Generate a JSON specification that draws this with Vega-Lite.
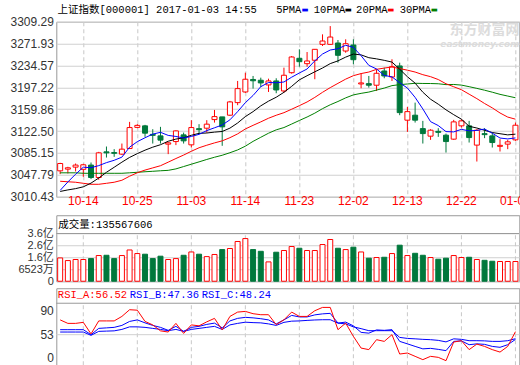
{
  "$schema": "https://vega.github.io/schema/vega-lite/v6.json",
  "background": "white",
  "padding": {"left": 9.3, "top": 3.75, "right": 0, "bottom": 0},
  "config": {
    "view": {"stroke": "#999999", "strokeWidth": 1},
    "axis": {"labelFont": "Liberation Sans, Noto Sans CJK SC", "labelFontSize": 12, "labelColor": "#333333", "ticks": false, "tickSize": 0, "domain": false, "gridColor": "#d0d0d0", "gridWidth": 1, "labelOverlap": false},
    "text": {"font": "Liberation Mono, Noto Sans CJK SC", "fontSize": 10.5, "color": "#000000"}
  },
  "datasets": {
    "one": [{}],
    "k": [
      {"d":"10-11","o":3054.7,"h":3068.4,"l":3049.1,"c":3067.2,"v":1.76,"m5":3021.3,"m10":3019.5,"m20":3036.9,"m30":3051.3,"ra":70.4,"rb":58.9,"rc":56.1},
      {"d":"10-12","o":3057.6,"h":3061.6,"l":3050.2,"c":3059.9,"v":1.56,"m5":3035.7,"m10":3022.1,"m20":3036.0,"m30":3051.3,"ra":66.3,"rb":58.9,"rc":56.1},
      {"d":"10-13","o":3061.0,"h":3067.2,"l":3053.6,"c":3064.5,"v":1.64,"m5":3048.9,"m10":3024.3,"m20":3035.2,"m30":3051.3,"ra":66.3,"rb":58.9,"rc":56.1},
      {"d":"10-14","o":3057.3,"h":3066.7,"l":3044.5,"c":3065.0,"v":1.64,"m5":3060.9,"m10":3027.4,"m20":3033.4,"m30":3050.5,"ra":67.5,"rb":58.9,"rc":56.1},
      {"d":"10-17","o":3064.5,"h":3068.9,"l":3040.6,"c":3043.3,"v":1.71,"m5":3060.0,"m10":3033.7,"m20":3031.7,"m30":3050.5,"ra":53.9,"rb":53.0,"rc":52.2},
      {"d":"10-18","o":3043.3,"h":3087.1,"l":3039.4,"c":3085.4,"v":1.94,"m5":3063.6,"m10":3042.4,"m20":3031.7,"m30":3050.5,"ra":69.2,"rb":60.4,"rc":56.9},
      {"d":"10-19","o":3087.1,"h":3096.2,"l":3077.4,"c":3085.4,"v":1.96,"m5":3068.7,"m10":3052.2,"m20":3033.4,"m30":3050.5,"ra":69.2,"rb":61.0,"rc":57.2},
      {"d":"10-20","o":3085.9,"h":3091.7,"l":3078.6,"c":3084.6,"v":1.71,"m5":3072.7,"m10":3060.8,"m20":3035.2,"m30":3050.5,"ra":69.2,"rb":61.6,"rc":57.5},
      {"d":"10-21","o":3083.2,"h":3101.3,"l":3082.0,"c":3091.7,"v":1.94,"m5":3078.1,"m10":3069.5,"m20":3038.6,"m30":3050.5,"ra":74.5,"rb":63.9,"rc":59.2},
      {"d":"10-24","o":3092.8,"h":3138.3,"l":3092.3,"c":3128.6,"v":2.36,"m5":3095.1,"m10":3077.6,"m20":3045.5,"m30":3051.3,"ra":82.4,"rb":68.6,"rc":62.2},
      {"d":"10-25","o":3128.9,"h":3134.4,"l":3127.5,"c":3132.3,"v":2.09,"m5":3104.5,"m10":3084.1,"m20":3051.4,"m30":3052.2,"ra":81.8,"rb":70.4,"rc":62.2},
      {"d":"10-26","o":3131.5,"h":3133.2,"l":3112.7,"c":3119.0,"v":2.04,"m5":3111.2,"m10":3090.0,"m20":3056.0,"m30":3053.1,"ra":68.6,"rb":66.9,"rc":61.6},
      {"d":"10-27","o":3117.0,"h":3125.8,"l":3101.3,"c":3115.3,"v":1.71,"m5":3117.4,"m10":3095.1,"m20":3059.7,"m30":3053.9,"ra":64.5,"rb":63.9,"rc":60.4},
      {"d":"10-28","o":3114.4,"h":3129.8,"l":3101.3,"c":3107.1,"v":1.89,"m5":3120.5,"m10":3099.3,"m20":3063.4,"m30":3054.8,"ra":57.5,"rb":61.6,"rc":59.2},
      {"d":"10-31","o":3100.3,"h":3103.3,"l":3083.2,"c":3102.5,"v":1.64,"m5":3115.2,"m10":3105.2,"m20":3069.5,"m30":3055.5,"ra":56.1,"rb":58.1,"rc":57.7},
      {"d":"11-01","o":3104.7,"h":3123.8,"l":3098.6,"c":3122.9,"v":1.71,"m5":3113.4,"m10":3108.9,"m20":3075.7,"m30":3058.0,"ra":66.3,"rb":62.8,"rc":59.2},
      {"d":"11-02","o":3116.1,"h":3120.0,"l":3101.3,"c":3105.9,"v":1.96,"m5":3110.7,"m10":3111.0,"m20":3081.6,"m30":3062.0,"ra":54.5,"rb":56.9,"rc":56.9},
      {"d":"11-03","o":3099.1,"h":3141.2,"l":3094.5,"c":3128.6,"v":2.21,"m5":3113.4,"m10":3115.4,"m20":3088.1,"m30":3066.0,"ra":64.5,"rb":61.6,"rc":59.2},
      {"d":"11-04","o":3126.7,"h":3134.4,"l":3117.3,"c":3125.0,"v":2.04,"m5":3117.0,"m10":3118.7,"m20":3094.1,"m30":3070.0,"ra":63.4,"rb":62.8,"rc":60.4},
      {"d":"11-07","o":3127.5,"h":3141.2,"l":3120.0,"c":3134.4,"v":1.86,"m5":3123.4,"m10":3119.3,"m20":3098.4,"m30":3074.1,"ra":68.1,"rb":65.1,"rc":61.6},
      {"d":"11-08","o":3142.2,"h":3158.7,"l":3137.1,"c":3147.3,"v":2.02,"m5":3128.2,"m10":3120.8,"m20":3102.4,"m30":3077.9,"ra":72.2,"rb":66.6,"rc":62.8},
      {"d":"11-09","o":3146.8,"h":3146.8,"l":3097.4,"c":3129.8,"v":2.39,"m5":3133.0,"m10":3121.9,"m20":3105.9,"m30":3081.3,"ra":58.6,"rb":61.0,"rc":59.2},
      {"d":"11-10","o":3149.7,"h":3174.1,"l":3148.5,"c":3172.4,"v":2.47,"m5":3141.8,"m10":3127.6,"m20":3111.3,"m30":3085.6,"ra":74.5,"rb":69.2,"rc":64.5},
      {"d":"11-11","o":3171.2,"h":3208.2,"l":3166.8,"c":3195.1,"v":3.00,"m5":3155.8,"m10":3136.4,"m20":3117.8,"m30":3090.4,"ra":79.6,"rb":72.2,"rc":66.3},
      {"d":"11-14","o":3189.4,"h":3222.3,"l":3187.7,"c":3211.1,"v":3.22,"m5":3171.1,"m10":3147.3,"m20":3126.2,"m30":3096.8,"ra":80.4,"rb":73.4,"rc":67.7},
      {"d":"11-15","o":3210.7,"h":3216.7,"l":3195.1,"c":3208.5,"v":2.39,"m5":3183.4,"m10":3155.8,"m20":3132.4,"m30":3105.0,"ra":77.7,"rb":72.8,"rc":67.2},
      {"d":"11-16","o":3209.4,"h":3213.8,"l":3197.9,"c":3204.8,"v":2.26,"m5":3198.4,"m10":3165.7,"m20":3138.3,"m30":3112.0,"ra":76.5,"rb":71.8,"rc":66.9},
      {"d":"11-17","o":3201.4,"h":3212.1,"l":3189.4,"c":3208.2,"v":1.46,"m5":3205.5,"m10":3173.7,"m20":3144.5,"m30":3118.9,"ra":76.5,"rb":70.4,"rc":65.7},
      {"d":"11-18","o":3208.2,"h":3212.8,"l":3187.2,"c":3192.8,"v":2.19,"m5":3205.1,"m10":3180.4,"m20":3149.6,"m30":3124.7,"ra":64.8,"rb":65.7,"rc":63.9},
      {"d":"11-21","o":3191.1,"h":3230.9,"l":3188.2,"c":3217.9,"v":2.32,"m5":3206.4,"m10":3188.8,"m20":3154.0,"m30":3128.6,"ra":70.5,"rb":70.4,"rc":67.5},
      {"d":"11-22","o":3222.3,"h":3250.8,"l":3220.6,"c":3249.1,"v":2.62,"m5":3214.6,"m10":3199.0,"m20":3159.9,"m30":3134.6,"ra":79.6,"rb":75.7,"rc":68.9},
      {"d":"11-23","o":3246.9,"h":3262.2,"l":3232.5,"c":3241.1,"v":2.49,"m5":3221.8,"m10":3210.1,"m20":3166.0,"m30":3140.7,"ra":74.5,"rb":73.9,"rc":69.2},
      {"d":"11-24","o":3237.7,"h":3257.6,"l":3232.5,"c":3242.3,"v":2.32,"m5":3228.6,"m10":3217.1,"m20":3172.3,"m30":3146.6,"ra":74.5,"rb":73.9,"rc":69.8},
      {"d":"11-25","o":3243.5,"h":3262.7,"l":3211.1,"c":3262.2,"v":2.32,"m5":3242.5,"m10":3223.8,"m20":3180.1,"m30":3153.2,"ra":81.2,"rb":76.3,"rc":70.3},
      {"d":"11-28","o":3270.7,"h":3287.8,"l":3267.9,"c":3276.4,"v":2.77,"m5":3254.2,"m10":3230.3,"m20":3188.8,"m30":3160.9,"ra":85.1,"rb":77.5,"rc":70.6},
      {"d":"11-29","o":3270.7,"h":3301.9,"l":3269.6,"c":3283.2,"v":3.15,"m5":3261.0,"m10":3237.8,"m20":3196.8,"m30":3167.5,"ra":85.1,"rb":78.1,"rc":70.6},
      {"d":"11-30","o":3273.0,"h":3278.1,"l":3239.4,"c":3252.0,"v":2.49,"m5":3263.2,"m10":3242.5,"m20":3204.1,"m30":3173.1,"ra":58.9,"rb":66.6,"rc":66.6},
      {"d":"12-01","o":3259.3,"h":3279.3,"l":3256.4,"c":3271.8,"v":2.39,"m5":3269.1,"m10":3248.9,"m20":3211.3,"m30":3179.3,"ra":66.6,"rb":67.8,"rc":65.7},
      {"d":"12-02","o":3269.6,"h":3279.3,"l":3236.7,"c":3244.5,"v":2.57,"m5":3265.6,"m10":3254.1,"m20":3217.2,"m30":3184.4,"ra":51.0,"rb":63.4,"rc":62.2},
      {"d":"12-05","o":3203.1,"h":3221.3,"l":3195.7,"c":3204.8,"v":2.21,"m5":3251.3,"m10":3252.7,"m20":3220.8,"m30":3187.0,"ra":37.2,"rb":55.7,"rc":60.1},
      {"d":"12-06","o":3203.6,"h":3216.7,"l":3196.8,"c":3200.9,"v":1.74,"m5":3234.8,"m10":3247.9,"m20":3223.4,"m30":3189.2,"ra":35.4,"rb":54.8,"rc":57.7},
      {"d":"12-07","o":3200.9,"h":3228.1,"l":3191.1,"c":3221.3,"v":1.79,"m5":3228.7,"m10":3245.9,"m20":3228.0,"m30":3192.6,"ra":47.1,"rb":58.6,"rc":57.7},
      {"d":"12-08","o":3225.2,"h":3230.9,"l":3212.8,"c":3216.7,"v":1.81,"m5":3217.6,"m10":3243.4,"m20":3230.2,"m30":3196.0,"ra":45.1,"rb":58.1,"rc":57.7},
      {"d":"12-09","o":3215.0,"h":3245.2,"l":3208.2,"c":3232.5,"v":2.09,"m5":3215.2,"m10":3240.4,"m20":3232.1,"m30":3200.2,"ra":53.0,"rb":58.9,"rc":57.7},
      {"d":"12-12","o":3233.8,"h":3239.4,"l":3149.7,"c":3154.1,"v":2.72,"m5":3205.1,"m10":3228.2,"m20":3229.3,"m30":3201.9,"ra":30.2,"rb":45.1,"rc":49.8},
      {"d":"12-13","o":3141.2,"h":3163.8,"l":3121.2,"c":3155.8,"v":1.94,"m5":3196.1,"m10":3215.4,"m20":3226.6,"m30":3203.0,"ra":31.4,"rb":42.2,"rc":48.6},
      {"d":"12-14","o":3149.7,"h":3171.2,"l":3137.1,"c":3141.2,"v":2.11,"m5":3180.1,"m10":3204.4,"m20":3223.4,"m30":3204.2,"ra":27.5,"rb":39.2,"rc":48.1},
      {"d":"12-15","o":3126.8,"h":3140.0,"l":3101.3,"c":3118.3,"v":1.96,"m5":3160.4,"m10":3189.0,"m20":3218.9,"m30":3203.9,"ra":23.6,"rb":36.3,"rc":47.5},
      {"d":"12-16","o":3113.9,"h":3125.8,"l":3107.6,"c":3124.1,"v":1.79,"m5":3138.7,"m10":3177.0,"m20":3215.5,"m30":3203.8,"ra":27.5,"rb":36.9,"rc":47.1},
      {"d":"12-19","o":3122.1,"h":3127.5,"l":3112.7,"c":3120.4,"v":1.66,"m5":3132.0,"m10":3168.5,"m20":3210.6,"m30":3203.4,"ra":26.3,"rb":35.7,"rc":46.3},
      {"d":"12-20","o":3115.6,"h":3118.3,"l":3085.9,"c":3104.7,"v":1.74,"m5":3121.7,"m10":3158.9,"m20":3203.4,"m30":3201.9,"ra":22.4,"rb":34.2,"rc":44.5},
      {"d":"12-21","o":3108.8,"h":3141.7,"l":3107.6,"c":3138.3,"v":1.94,"m5":3121.2,"m10":3150.6,"m20":3198.3,"m30":3202.2,"ra":44.3,"rb":45.1,"rc":48.1},
      {"d":"12-22","o":3131.5,"h":3142.9,"l":3128.6,"c":3140.0,"v":1.79,"m5":3125.5,"m10":3142.9,"m20":3193.2,"m30":3201.1,"ra":45.9,"rb":45.7,"rc":47.5},
      {"d":"12-23","o":3131.5,"h":3140.0,"l":3103.0,"c":3111.5,"v":1.81,"m5":3123.0,"m10":3130.8,"m20":3185.6,"m30":3198.4,"ra":35.4,"rb":41.2,"rc":45.9},
      {"d":"12-26","o":3098.6,"h":3125.8,"l":3070.6,"c":3124.1,"v":1.64,"m5":3123.7,"m10":3127.8,"m20":3178.0,"m30":3195.5,"ra":41.9,"rb":42.2,"rc":45.9},
      {"d":"12-27","o":3118.2,"h":3127.5,"l":3110.5,"c":3116.5,"v":1.58,"m5":3126.1,"m10":3123.9,"m20":3169.7,"m30":3192.4,"ra":39.2,"rb":41.6,"rc":45.7},
      {"d":"12-28","o":3114.4,"h":3120.0,"l":3094.5,"c":3103.0,"v":1.51,"m5":3119.0,"m10":3120.1,"m20":3162.2,"m30":3189.0,"ra":35.4,"rb":39.2,"rc":45.1},
      {"d":"12-29","o":3096.5,"h":3108.8,"l":3087.7,"c":3098.2,"v":1.49,"m5":3110.7,"m10":3118.1,"m20":3153.5,"m30":3185.3,"ra":32.5,"rb":38.1,"rc":45.1},
      {"d":"12-30","o":3100.3,"h":3107.6,"l":3091.7,"c":3104.2,"v":1.49,"m5":3109.2,"m10":3116.1,"m20":3146.5,"m30":3182.4,"ra":39.2,"rb":41.2,"rc":45.9},
      {"d":"01-03","o":3107.6,"h":3137.1,"l":3105.9,"c":3132.6,"v":1.49,"m5":3110.9,"m10":3117.3,"m20":3142.9,"m30":3179.5,"ra":56.52,"rb":47.36,"rc":48.24}
    ],
    "ticks": [{"d":"10-14"},{"d":"10-25"},{"d":"11-03"},{"d":"11-14"},{"d":"11-23"},{"d":"12-02"},{"d":"12-13"},{"d":"12-22"},{"d":"01-03"}]
  },
  "bounds": "flush",
  "spacing": 18.5,
  "vconcat": [
    {
      "width": 463,
      "height": 175,
      "data": {"name": "k"},
      "layer": [
        {
          "data": {"name": "one"},
          "mark": {"type": "text", "align": "right", "baseline": "middle", "dx": 4, "font": "Noto Sans CJK SC", "fontSize": 14, "fontWeight": "bold", "color": "#dcdcdc"},
          "encoding": {
            "x": {"datum": "01-03", "type": "ordinal"},
            "y": {"datum": 3296, "type": "quantitative"},
            "text": {"value": "东方财富网"}
          }
        },
        {
          "data": {"name": "one"},
          "mark": {"type": "text", "align": "right", "baseline": "middle", "dx": 4, "font": "DejaVu Sans", "fontSize": 9, "fontWeight": "bold", "fontStyle": "italic", "color": "#dcdcdc"},
          "encoding": {
            "x": {"datum": "01-03", "type": "ordinal"},
            "y": {"datum": 3271, "type": "quantitative"},
            "text": {"value": "eastmoney.com"}
          }
        },
        {
          "mark": {"type": "rule", "strokeWidth": 1},
          "encoding": {
            "x": {
              "field": "d", "type": "ordinal", "title": null,
              "scale": {"type": "band", "paddingInner": 0, "paddingOuter": 0, "domain": ["10-11","10-12","10-13","10-14","10-17","10-18","10-19","10-20","10-21","10-24","10-25","10-26","10-27","10-28","10-31","11-01","11-02","11-03","11-04","11-07","11-08","11-09","11-10","11-11","11-14","11-15","11-16","11-17","11-18","11-21","11-22","11-23","11-24","11-25","11-28","11-29","11-30","12-01","12-02","12-05","12-06","12-07","12-08","12-09","12-12","12-13","12-14","12-15","12-16","12-19","12-20","12-21","12-22","12-23","12-26","12-27","12-28","12-29","12-30","01-03"]},
              "axis": {"values": ["10-14","10-25","11-03","11-14","11-23","12-02","12-13","12-22","01-03"], "labelColor": "#ff0000", "labelAngle": 0, "labelAlign": "center", "labelFlush": false, "labelPadding": 4, "labelOverlap": false, "grid": true, "gridDash": [4, 3], "gridColor": "#c8c8c8", "bandPosition": 0.5}
            },
            "y": {
              "field": "l", "type": "quantitative", "title": null,
              "scale": {"domain": [3010.43, 3309.29], "nice": false, "zero": false},
              "axis": {"values": [3010.43, 3047.79, 3085.15, 3122.50, 3159.86, 3197.22, 3234.57, 3271.93, 3309.29], "tickCount": 20, "format": ".2f", "labelPadding": 3, "labelOverlap": false, "grid": true}
            },
            "y2": {"field": "h"},
            "color": {"condition": {"test": "datum.c >= datum.o", "value": "#ff0000"}, "value": "#00783c"}
          }
        },
        {
          "mark": {"type": "bar", "width": 5, "strokeWidth": 1},
          "encoding": {
            "x": {"field": "d", "type": "ordinal"},
            "y": {"field": "o", "type": "quantitative"},
            "y2": {"field": "c"},
            "fill": {"condition": {"test": "datum.c >= datum.o", "value": "#ffffff"}, "value": "#00783c"},
            "stroke": {"condition": {"test": "datum.c >= datum.o", "value": "#ff0000"}, "value": "#00783c"}
          }
        },
        {
          "mark": {"type": "line", "strokeWidth": 1, "color": "#008000"},
          "encoding": {"x": {"field": "d", "type": "ordinal"}, "y": {"field": "m30", "type": "quantitative"}}
        },
        {
          "mark": {"type": "line", "strokeWidth": 1, "color": "#ff0000"},
          "encoding": {"x": {"field": "d", "type": "ordinal"}, "y": {"field": "m20", "type": "quantitative"}}
        },
        {
          "mark": {"type": "line", "strokeWidth": 1, "color": "#000000"},
          "encoding": {"x": {"field": "d", "type": "ordinal"}, "y": {"field": "m10", "type": "quantitative"}}
        },
        {
          "mark": {"type": "line", "strokeWidth": 1, "color": "#0000ff"},
          "encoding": {"x": {"field": "d", "type": "ordinal"}, "y": {"field": "m5", "type": "quantitative"}}
        },
        {
          "data": {"name": "one"},
          "mark": {"type": "text", "align": "left", "baseline": "middle", "dx": -2.6},
          "encoding": {"x": {"datum": "10-11", "type": "ordinal"}, "y": {"datum": 3329, "type": "quantitative"}, "text": {"value": "上证指数[000001] 2017-01-03 14:55"}}
        },
        {
          "data": {"name": "one"},
          "mark": {"type": "text", "align": "left", "baseline": "middle"},
          "encoding": {"x": {"datum": "11-18", "type": "ordinal"}, "y": {"datum": 3329, "type": "quantitative"}, "text": {"value": "5PMA"}}
        },
        {
          "data": {"name": "one"},
          "mark": {"type": "text", "align": "left", "baseline": "middle", "dx": -1},
          "encoding": {"x": {"datum": "11-25", "type": "ordinal"}, "y": {"datum": 3329, "type": "quantitative"}, "text": {"value": "10PMA"}}
        },
        {
          "data": {"name": "one"},
          "mark": {"type": "text", "align": "left", "baseline": "middle", "dx": 2.7},
          "encoding": {"x": {"datum": "12-02", "type": "ordinal"}, "y": {"datum": 3329, "type": "quantitative"}, "text": {"value": "20PMA"}}
        },
        {
          "data": {"name": "one"},
          "mark": {"type": "text", "align": "left", "baseline": "middle"},
          "encoding": {"x": {"datum": "12-12", "type": "ordinal"}, "y": {"datum": 3329, "type": "quantitative"}, "text": {"value": "30PMA"}}
        },
        {
          "data": {"name": "one"},
          "mark": {"type": "text", "align": "center", "baseline": "middle", "dx": -2.1, "font": "DejaVu Sans", "fontSize": 7.5, "color": "#0000ff"},
          "encoding": {"x": {"datum": "11-24", "type": "ordinal"}, "y": {"datum": 3329, "type": "quantitative"}, "text": {"value": "▬"}}
        },
        {
          "data": {"name": "one"},
          "mark": {"type": "text", "align": "center", "baseline": "middle", "dx": 2.7, "font": "DejaVu Sans", "fontSize": 7.5, "color": "#000000"},
          "encoding": {"x": {"datum": "12-01", "type": "ordinal"}, "y": {"datum": 3329, "type": "quantitative"}, "text": {"value": "▬"}}
        },
        {
          "data": {"name": "one"},
          "mark": {"type": "text", "align": "center", "baseline": "middle", "dx": -1.1, "font": "DejaVu Sans", "fontSize": 7.5, "color": "#ff0000"},
          "encoding": {"x": {"datum": "12-09", "type": "ordinal"}, "y": {"datum": 3329, "type": "quantitative"}, "text": {"value": "▬"}}
        },
        {
          "data": {"name": "one"},
          "mark": {"type": "text", "align": "center", "baseline": "middle", "dx": 3.7, "font": "DejaVu Sans", "fontSize": 7.5, "color": "#008000"},
          "encoding": {"x": {"datum": "12-16", "type": "ordinal"}, "y": {"datum": 3329, "type": "quantitative"}, "text": {"value": "▬"}}
        }
      ]
    },
    {
      "bounds": "flush",
      "spacing": 7,
      "vconcat": [
        {
          "width": 463,
          "height": 66,
          "data": {"name": "k"},
          "layer": [
            {
              "data": {"name": "ticks"},
              "mark": {"type": "rule", "strokeDash": [4, 3], "color": "#c8c8c8"},
              "encoding": {
                "x": {"field": "d", "type": "ordinal", "axis": null,
                  "scale": {"type": "band", "paddingInner": 0, "paddingOuter": 0, "domain": ["10-11","10-12","10-13","10-14","10-17","10-18","10-19","10-20","10-21","10-24","10-25","10-26","10-27","10-28","10-31","11-01","11-02","11-03","11-04","11-07","11-08","11-09","11-10","11-11","11-14","11-15","11-16","11-17","11-18","11-21","11-22","11-23","11-24","11-25","11-28","11-29","11-30","12-01","12-02","12-05","12-06","12-07","12-08","12-09","12-12","12-13","12-14","12-15","12-16","12-19","12-20","12-21","12-22","12-23","12-26","12-27","12-28","12-29","12-30","01-03"]}},
                "y": {"datum": 0, "type": "quantitative", "title": null,
                  "scale": {"domain": [0, 4.98], "nice": false, "zero": true},
                  "axis": {"values": [0, 0.9, 1.8, 2.7, 3.6], "tickCount": 20, "labelFontSize": 11, "labelExpr": "datum.value == 0 ? '0' : datum.value < 1 ? '6523万' : datum.value < 2 ? '1.6亿' : datum.value < 3 ? '2.6亿' : '3.6亿'", "labelPadding": 3, "labelOverlap": false, "grid": true, "title": null}},
                "y2": {"datum": 3.6}
              }
            },
            {
              "mark": {"type": "bar", "width": 5, "strokeWidth": 1},
              "encoding": {
                "x": {"field": "d", "type": "ordinal", "axis": null},
                "y": {"field": "v", "type": "quantitative", "title": null},
                "fill": {"condition": {"test": "datum.c >= datum.o", "value": "#ffffff"}, "value": "#00783c"},
                "stroke": {"condition": {"test": "datum.c >= datum.o", "value": "#ff0000"}, "value": "#00783c"}
              }
            },
            {
              "data": {"name": "one"},
              "mark": {"type": "rule", "color": "#999999"},
              "encoding": {"y": {"datum": 3.6, "type": "quantitative"}}
            },
            {
              "data": {"name": "one"},
              "mark": {"type": "text", "align": "left", "baseline": "middle", "dx": -2},
              "encoding": {"x": {"datum": "10-11", "type": "ordinal", "axis": null}, "y": {"datum": 4.25, "type": "quantitative"}, "text": {"value": "成交量:135567606"}}
            }
          ]
        },
        {
          "width": 463,
          "height": 77,
          "data": {"name": "k"},
          "layer": [
            {
              "data": {"name": "ticks"},
              "mark": {"type": "rule", "strokeDash": [4, 3], "color": "#c8c8c8"},
              "encoding": {
                "x": {"field": "d", "type": "ordinal", "axis": null,
                  "scale": {"type": "band", "paddingInner": 0, "paddingOuter": 0, "domain": ["10-11","10-12","10-13","10-14","10-17","10-18","10-19","10-20","10-21","10-24","10-25","10-26","10-27","10-28","10-31","11-01","11-02","11-03","11-04","11-07","11-08","11-09","11-10","11-11","11-14","11-15","11-16","11-17","11-18","11-21","11-22","11-23","11-24","11-25","11-28","11-29","11-30","12-01","12-02","12-05","12-06","12-07","12-08","12-09","12-12","12-13","12-14","12-15","12-16","12-19","12-20","12-21","12-22","12-23","12-26","12-27","12-28","12-29","12-30","01-03"]}},
                "y": {"datum": 17, "type": "quantitative", "title": null,
                  "scale": {"domain": [17, 107.66], "nice": false, "zero": false},
                  "axis": {"values": [81.4, 53, 26.4], "tickCount": 20, "labelExpr": "datum.value > 80 ? '90' : datum.value > 50 ? '53' : '0'", "labelPadding": 3, "labelOverlap": false, "grid": false, "title": null}},
                "y2": {"datum": 90}
              }
            },
            {
              "data": {"name": "one"},
              "mark": {"type": "rule", "color": "#d0d0d0"},
              "encoding": {"y": {"datum": 53, "type": "quantitative"}}
            },
            {
              "data": {"name": "one"},
              "mark": {"type": "rule", "color": "#999999"},
              "encoding": {"y": {"datum": 90, "type": "quantitative"}}
            },
            {
              "mark": {"type": "line", "strokeWidth": 1, "color": "#0000ff"},
              "encoding": {"x": {"field": "d", "type": "ordinal", "axis": null}, "y": {"field": "rc", "type": "quantitative"}}
            },
            {
              "mark": {"type": "line", "strokeWidth": 1, "color": "#0000ff"},
              "encoding": {"x": {"field": "d", "type": "ordinal", "axis": null}, "y": {"field": "rb", "type": "quantitative"}}
            },
            {
              "mark": {"type": "line", "strokeWidth": 1, "color": "#ff0000"},
              "encoding": {"x": {"field": "d", "type": "ordinal", "axis": null}, "y": {"field": "ra", "type": "quantitative"}}
            },
            {
              "data": {"name": "one"},
              "mark": {"type": "text", "align": "left", "baseline": "middle", "dx": -2.3, "color": "#ff0000"},
              "encoding": {"x": {"datum": "10-11", "type": "ordinal", "axis": null}, "y": {"datum": 99.4, "type": "quantitative"}, "text": {"value": "RSI_A:56.52"}}
            },
            {
              "data": {"name": "one"},
              "mark": {"type": "text", "align": "left", "baseline": "middle", "dx": 0.2, "color": "#0000ff"},
              "encoding": {"x": {"datum": "10-24", "type": "ordinal", "axis": null}, "y": {"datum": 99.4, "type": "quantitative"}, "text": {"value": "RSI_B:47.36"}}
            },
            {
              "data": {"name": "one"},
              "mark": {"type": "text", "align": "left", "baseline": "middle", "dx": 2.7, "color": "#0000ff"},
              "encoding": {"x": {"datum": "11-04", "type": "ordinal", "axis": null}, "y": {"datum": 99.4, "type": "quantitative"}, "text": {"value": "RSI_C:48.24"}}
            }
          ]
        }
      ]
    }
  ]
}
